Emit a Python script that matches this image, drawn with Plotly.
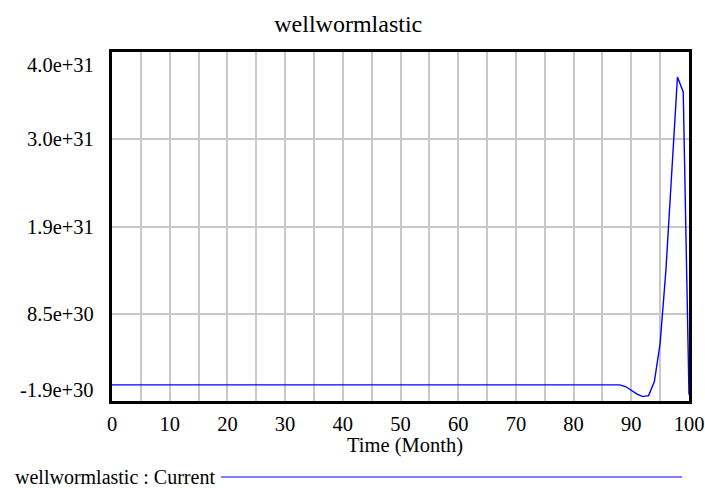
import plotly.graph_objects as go

# Simulation output: wellwormlastic (Current run), monthly
time_month = list(range(0, 101))
flat_part = [0.0] * 89  # months 0..88
tail_part = [
    -2.0e29, -6.8e29, -1.12e30, -1.41e30, -1.29e30, 4.0e29,
    5.0e30, 1.38e31, 2.58e31, 3.70e31, 3.52e31, -1.2e30,
]  # months 89..100
wellwormlastic = flat_part + tail_part

# Axis range and tick labels
y_min = -1.94e30
y_max = 4.0e31
y_tick_text = ["-1.9e+30", "8.5e+30", "1.9e+31", "3.0e+31", "4.0e+31"]
x_tick_vals = [0, 10, 20, 30, 40, 50, 60, 70, 80, 90, 100]

FONT = "Liberation Serif"
n_div = len(y_tick_text) - 1
y_step = (y_max - y_min) / n_div
y_tick_vals = [y_min + i * y_step for i in range(n_div + 1)]

fig = go.Figure()
fig.add_trace(go.Scatter(
    x=time_month, y=wellwormlastic, mode="lines",
    line=dict(color="#0000ff", width=1.4),
    showlegend=False, hoverinfo="skip",
))

# y tick labels: end labels are pulled inside the plot frame
for i, (v, t) in enumerate(zip(y_tick_vals, y_tick_text)):
    shift = 0
    if i == 0:
        shift = 11
    elif i == n_div:
        shift = -13
    fig.add_annotation(
        x=0, xref="paper", y=v, yref="y", text=t, showarrow=False,
        xanchor="right", yanchor="middle", xshift=-16, yshift=shift,
        font=dict(family=FONT, size=20.5, color="black"),
    )

# x axis title
fig.add_annotation(
    x=0.508, xref="paper", y=-0.127, yref="paper", text="Time (Month)",
    showarrow=False, xanchor="center", yanchor="middle",
    font=dict(family=FONT, size=20.5, color="black"),
)

# Run legend below the chart
fig.add_annotation(
    x=-0.172, xref="paper", y=-0.2178, yref="paper", text="wellwormlastic : Current",
    showarrow=False, xanchor="left", yanchor="middle",
    font=dict(family=FONT, size=20, color="black"),
)
fig.add_shape(type="line", xref="paper", yref="paper",
              x0=0.189, x1=0.988, y0=-0.2178, y1=-0.2178,
              line=dict(color="#0000ff", width=1.2))

fig.update_layout(
    width=705, height=488,
    margin=dict(l=112, r=16, t=52, b=87),
    paper_bgcolor="white", plot_bgcolor="white",
    title=dict(text="wellwormlastic", x=0.494, xanchor="center", y=0.951, yanchor="middle",
               font=dict(family=FONT, size=24, color="black")),
    xaxis=dict(
        range=[0, 100], tickvals=x_tick_vals, ticks="", automargin=False,
        showgrid=True, gridcolor="#c8c8c8", gridwidth=1.5,
        minor=dict(dtick=5, tick0=0, showgrid=True, gridcolor="#c8c8c8", gridwidth=1.5),
        showline=True, linecolor="black", linewidth=2.5, mirror=True,
        zeroline=False, tickfont=dict(family=FONT, size=20.5, color="black"),
        ticklabelstandoff=3,
    ),
    yaxis=dict(
        range=[y_min, y_max], tickvals=y_tick_vals, showticklabels=False, ticks="",
        automargin=False,
        showgrid=True, gridcolor="#c8c8c8", gridwidth=1.5,
        showline=True, linecolor="black", linewidth=2.5, mirror=True, zeroline=False,
    ),
)

fig.write_html("out.html")
